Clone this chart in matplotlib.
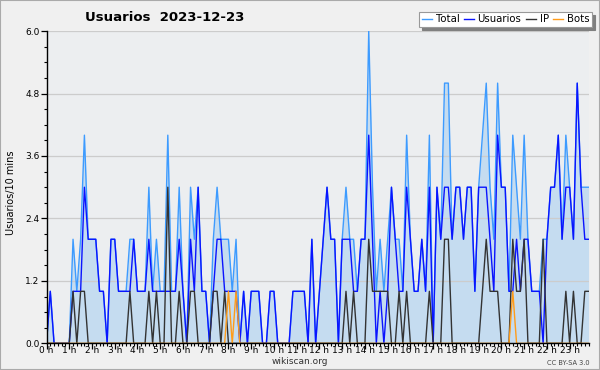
import numpy as np
import matplotlib
matplotlib.use("Agg")
import matplotlib.pyplot as plt
from matplotlib.patches import Rectangle
from matplotlib.ticker import MultipleLocator

titulo = "Usuarios  2023-12-23"
horas = [f"{h} h" for h in range(24)]
y_ticks = [0.0, 1.2, 2.4, 3.6, 4.8, 6.0]

# un valor cada 10 minutos (144 por dia)
total = [
    0, 1, 0, 0, 0, 0, 0, 2, 1, 2, 4, 2,
    2, 2, 1, 1, 0, 2, 2, 1, 1, 1, 2, 2,
    1, 1, 1, 3, 1, 2, 1, 1, 4, 1, 1, 3,
    1, 0, 3, 2, 3, 1, 1, 0, 2, 3, 2, 2,
    2, 1, 2, 0, 1, 0, 1, 1, 1, 0, 0, 1,
    1, 0, 0, 0, 0, 1, 1, 1, 1, 0, 2, 0,
    1, 2, 3, 2, 2, 0, 2, 3, 2, 2, 1, 2,
    2, 6, 3, 1, 2, 1, 2, 3, 2, 2, 1, 4,
    2, 1, 1, 2, 1, 4, 0, 3, 2, 5, 5, 2,
    3, 3, 2, 3, 3, 1, 3, 4, 5, 3, 2, 5,
    3, 3, 1, 4, 3, 2, 4, 2, 1, 1, 1, 2,
    2, 3, 3, 4, 2, 4, 3, 2, 5, 3, 3, 3,
]
usuarios = [
    0, 1, 0, 0, 0, 0, 0, 1, 1, 1, 3, 2,
    2, 2, 1, 1, 0, 2, 2, 1, 1, 1, 1, 2,
    1, 1, 1, 2, 1, 1, 1, 1, 1, 1, 1, 2,
    1, 0, 2, 1, 3, 1, 1, 0, 1, 2, 2, 1,
    1, 1, 1, 0, 1, 0, 1, 1, 1, 0, 0, 1,
    1, 0, 0, 0, 0, 1, 1, 1, 1, 0, 2, 0,
    1, 2, 3, 2, 2, 0, 2, 2, 2, 1, 1, 2,
    2, 4, 2, 0, 1, 0, 1, 3, 2, 1, 1, 3,
    2, 1, 1, 2, 1, 3, 0, 3, 2, 3, 3, 2,
    3, 3, 2, 3, 3, 1, 3, 3, 3, 2, 1, 4,
    3, 3, 1, 1, 2, 1, 2, 2, 1, 1, 1, 0,
    2, 3, 3, 4, 2, 3, 3, 2, 5, 3, 2, 2,
]
ip = [
    0, 0, 0, 0, 0, 0, 0, 1, 0, 1, 1, 0,
    0, 0, 0, 0, 0, 0, 0, 0, 0, 0, 1, 0,
    0, 0, 0, 1, 0, 1, 0, 0, 3, 0, 0, 1,
    0, 0, 1, 1, 0, 0, 0, 0, 1, 1, 0, 1,
    0, 0, 0, 0, 0, 0, 0, 0, 0, 0, 0, 0,
    0, 0, 0, 0, 0, 0, 0, 0, 0, 0, 0, 0,
    0, 0, 0, 0, 0, 0, 0, 1, 0, 1, 0, 0,
    0, 2, 1, 1, 1, 1, 1, 0, 0, 1, 0, 1,
    0, 0, 0, 0, 0, 1, 0, 0, 0, 2, 2, 0,
    0, 0, 0, 0, 0, 0, 0, 1, 2, 1, 1, 1,
    0, 0, 0, 2, 1, 1, 2, 0, 0, 0, 0, 2,
    0, 0, 0, 0, 0, 1, 0, 1, 0, 0, 1, 1,
]
bots = [
    0, 0, 0, 0, 0, 0, 0, 0, 0, 0, 0, 0,
    0, 0, 0, 0, 0, 0, 0, 0, 0, 0, 0, 0,
    0, 0, 0, 0, 0, 0, 0, 0, 0, 0, 0, 0,
    0, 0, 0, 0, 0, 0, 0, 0, 0, 0, 0, 0,
    1, 0, 1, 0, 0, 0, 0, 0, 0, 0, 0, 0,
    0, 0, 0, 0, 0, 0, 0, 0, 0, 0, 0, 0,
    0, 0, 0, 0, 0, 0, 0, 0, 0, 0, 0, 0,
    0, 0, 0, 0, 0, 0, 0, 0, 0, 0, 0, 0,
    0, 0, 0, 0, 0, 0, 0, 0, 0, 0, 0, 0,
    0, 0, 0, 0, 0, 0, 0, 0, 0, 0, 0, 0,
    0, 0, 0, 1, 0, 0, 0, 0, 0, 0, 0, 0,
    0, 0, 0, 0, 0, 0, 0, 0, 0, 0, 0, 0,
]

fig = plt.figure(figsize=(6, 3.7), dpi=100, facecolor="#f0f0f0")
ax = fig.add_axes([0.0775, 0.072, 0.9035, 0.844])
ax.set_facecolor("#eceef0")

x = np.arange(len(total))
ax.fill_between(x, total, color="#c5dcf0", lw=0, zorder=0.3)
ax.plot(x, total, color="#3d9bff", lw=1.0, label="Total", zorder=2)
ax.plot(x, usuarios, color="#0a14ff", lw=1.0, label="Usuarios", zorder=2.1)
ax.plot(x, ip, color="#333333", lw=1.0, label="IP", zorder=2.2)
ax.plot(x, bots, color="#ff9c1a", lw=1.0, label="Bots", zorder=2.3)

ax.set_xlim(0, len(total) - 1)
ax.set_ylim(0, 6)

ax.set_xticks(np.arange(0, 144, 6))
ax.set_xticklabels(horas)
ax.xaxis.set_minor_locator(MultipleLocator(1))
ax.set_yticks(y_ticks)
ax.set_yticklabels([f"{v:.1f}" for v in y_ticks])
ax.yaxis.set_minor_locator(MultipleLocator(0.3))

ax.tick_params(which="major", direction="out", length=4, width=0.9,
               labelsize=6.5, color="black")
ax.tick_params(axis="x", which="major", pad=-2.4)
ax.tick_params(axis="y", which="major", pad=1)
ax.tick_params(which="minor", direction="out", length=2.5, width=0.8)

ax.set_axisbelow(True)
ax.yaxis.grid(True, color="#cccccc", lw=0.9)

for lado in ["top", "right"]:
    ax.spines[lado].set_visible(False)
for lado in ["left", "bottom"]:
    ax.spines[lado].set_linewidth(1.0)
    ax.spines[lado].set_zorder(3)

fig.text(0.275, 0.954, titulo, fontsize=9.5, fontweight="bold",
         ha="center", va="center")
fig.text(0.018, 0.478, "Usuarios/10 mins", fontsize=7, rotation=90,
         ha="center", va="center")
fig.text(0.5, 0.022, "wikiscan.org", fontsize=6.5, ha="center",
         va="center", color="#333333")
fig.text(0.983, 0.020, "CC BY-SA 3.0", fontsize=4.8, ha="right",
         va="center", color="#444444")

leg = fig.legend(loc="upper right", bbox_to_anchor=(0.987, 0.968), ncol=4,
                 fontsize=7.3, frameon=True, fancybox=False,
                 shadow={"color": "#808080", "alpha": 1.0},
                 handlelength=1.0, handletextpad=0.35, columnspacing=0.45,
                 borderpad=0.25, borderaxespad=0)
leg.get_frame().set_edgecolor("#999999")
leg.get_frame().set_linewidth(0.8)
leg.get_frame().set_facecolor("white")

fig.add_artist(Rectangle((0, 0), 1, 1, transform=fig.transFigure,
                         fill=False, edgecolor="#aaaaaa", lw=1.5))

fig.savefig("out.png", dpi=100, facecolor=fig.get_facecolor())
